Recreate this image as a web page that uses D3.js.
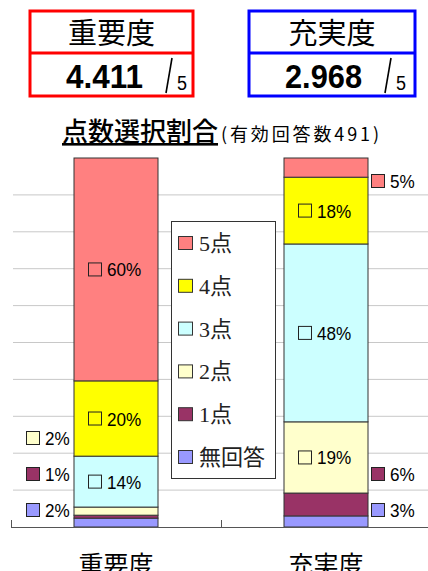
<!DOCTYPE html>
<html><head><meta charset="utf-8">
<script src="https://cdn.jsdelivr.net/npm/d3@7"></script>
<style>html,body{margin:0;padding:0;background:#fff;}svg{display:block;}</style>
</head><body>
<svg id="chart" width="428" height="571"></svg>
<script>
// ---- data ----
const categories = ["重要度", "充実度"];
const meanScores = [4.411, 2.968];
const maxScore = 5;
const seriesNames = ["無回答", "1点", "2点", "3点", "4点", "5点"];
const seriesColors = ["#9999FF", "#993366", "#FFFFCC", "#CCFFFF", "#FFFF00", "#FF8080"];
const importanceValues = [2.4, 0.8, 2.2, 13.8, 20.4, 60.4];
const satisfactionValues = [3.0, 6.2, 19.3, 48.2, 18.1, 5.2];
const gridTicks = [10, 20, 30, 40, 50, 60, 70, 80, 90];
const respondents = 491;
const boxColors = ["#FF0000", "#0000FF"];

const W = 428, H = 571;
const svg = d3.select("#chart");
const jp = "'Noto Sans CJK JP', sans-serif";
const jpSerif = "'Liberation Serif', 'Noto Sans CJK JP', serif";
const num = "'Liberation Sans', Arial, sans-serif";

// ---- score boxes ----
const boxLefts = [30, 249], boxW = [163, 166];
categories.forEach((c, i) => {
  const g = svg.append("g");
  const l = boxLefts[i], r = l + boxW[i];
  g.append("rect").attr("x", l).attr("y", 11).attr("width", boxW[i]).attr("height", 85)
    .attr("fill", "none").attr("stroke", boxColors[i]).attr("stroke-width", 3);
  g.append("line").attr("x1", l).attr("x2", r).attr("y1", 53).attr("y2", 53)
    .attr("stroke", boxColors[i]).attr("stroke-width", 3);
  g.append("text").attr("x", (l + r) / 2).attr("y", 44).attr("text-anchor", "middle")
    .attr("font-family", jp).attr("font-size", 29).attr("fill", "#000").text(c);
  g.append("text").attr("x", l + 113).attr("y", 88).attr("text-anchor", "end")
    .attr("font-family", num).attr("font-weight", "bold").attr("font-size", 33)
    .attr("textLength", 77).attr("lengthAdjust", "spacingAndGlyphs")
    .text(meanScores[i].toFixed(3));
  g.append("line").attr("x1", l + 136).attr("y1", 93).attr("x2", l + 142).attr("y2", 58)
    .attr("stroke", "#000").attr("stroke-width", 1.6);
  g.append("text").attr("x", l + 147).attr("y", 90)
    .attr("font-family", num).attr("font-size", 20)
    .attr("textLength", 10).attr("lengthAdjust", "spacingAndGlyphs").text(maxScore);
});

// ---- title ----
svg.append("text").attr("x", 62).attr("y", 141).attr("font-family", jp)
  .attr("font-size", 26).attr("font-weight", 500)
  .attr("text-decoration", "underline").text("点数選択割合");
svg.append("text").attr("x", 221).attr("y", 141).attr("font-family", jp)
  .attr("font-size", 18).attr("textLength", 158).attr("lengthAdjust", "spacing")
  .text("(有効回答数" + respondents + ")");

// ---- scales ----
const x = d3.scaleBand().domain(categories).range([11, 431]).paddingInner(0.6).paddingOuter(0.3);
const y = d3.scaleLinear().domain([0, 100]).range([527, 158]);

// gridlines
svg.append("g").selectAll("line").data(gridTicks).join("line")
  .attr("x1", 13).attr("x2", W).attr("y1", d => y(d)).attr("y2", d => y(d))
  .attr("stroke", "#c8c8c8").attr("stroke-width", 1);

// stacked data
const rows = categories.map((c, i) => {
  const o = { cat: c };
  const vals = i === 0 ? importanceValues : satisfactionValues;
  seriesNames.forEach((s, j) => o[s] = vals[j]);
  return o;
});
const stack = d3.stack().keys(seriesNames)(rows);

const bars = svg.append("g");
stack.forEach((layer, j) => {
  bars.selectAll(null).data(layer).join("rect")
    .attr("x", d => x(d.data.cat)).attr("width", x.bandwidth())
    .attr("y", d => y(d[1])).attr("height", d => y(d[0]) - y(d[1]))
    .attr("fill", seriesColors[j]).attr("stroke", "#333").attr("stroke-width", 1);
});

// axis line + ticks
const axisG = svg.append("g");
axisG.append("line").attr("x1", 11).attr("x2", W).attr("y1", y(0) + 0.5).attr("y2", y(0) + 0.5)
  .attr("stroke", "#555").attr("stroke-width", 1);
const bounds = [0, 1, 2].map(k => x.range()[0] + k * x.step());
axisG.selectAll(null).data(bounds).join("line")
  .attr("x1", d => d + 0.5).attr("x2", d => d + 0.5).attr("y1", y(0) - 7).attr("y2", y(0) + 1)
  .attr("stroke", "#555");
axisG.selectAll(null).data(categories).join("text")
  .attr("x", d => x(d) + x.bandwidth() / 2).attr("y", 574).attr("text-anchor", "middle")
  .attr("font-family", jp).attr("font-size", 25).text(d => d);

// data labels
const labels = svg.append("g");
function label(xl, yc, color, filled, txt) {
  labels.append("rect").attr("x", xl + 0.5).attr("y", yc - 6.5).attr("width", 13).attr("height", 13)
    .attr("fill", filled ? color : "none").attr("stroke", "#222").attr("stroke-width", 1);
  const t = labels.append("text").attr("x", xl + 19).attr("y", yc + 7)
    .attr("font-family", num).attr("font-size", 19).text(txt);
  const len = t.node().getComputedTextLength();
  t.attr("textLength", len * 0.9).attr("lengthAdjust", "spacingAndGlyphs");
}
rows.forEach((r, i) => {
  let k = 0;
  const bx = x(r.cat), bw = x.bandwidth();
  seriesNames.forEach((s, j) => {
    const seg = stack[j][i];
    const v = seg[1] - seg[0];
    const txt = Math.round(v) + "%";
    if (v >= 10) {
      const yc = (y(seg[0]) + y(seg[1])) / 2;
      label(bx + bw / 2 - 28, yc, seriesColors[j], false, txt);
    } else {
      let yc;
      if (seg[0] < 50) { yc = y(0) - 17 - k * 36; k++; }
      else { yc = y(100) + 23; }
      const xl = i === 0 ? bx - 48 : bx + bw + 3;
      label(xl, yc, seriesColors[j], true, txt);
    }
  });
});

// legend
const lg = svg.append("g");
lg.append("rect").attr("x", 171.5).attr("y", 221.5).attr("width", 104).attr("height", 257)
  .attr("fill", "#fff").attr("stroke", "#333");
const legendItems = seriesNames.slice().reverse();
legendItems.forEach((s, k) => {
  const yc = 243 + k * 42.8;
  const j = seriesNames.indexOf(s);
  lg.append("rect").attr("x", 178.5).attr("y", yc - 6.5).attr("width", 14).attr("height", 13)
    .attr("fill", seriesColors[j]).attr("stroke", "#333");
  lg.append("text").attr("x", 199).attr("y", yc + 8).attr("font-family", jpSerif)
    .attr("font-size", 22).attr("fill", "#222").text(s);
});
</script>
</body></html>
